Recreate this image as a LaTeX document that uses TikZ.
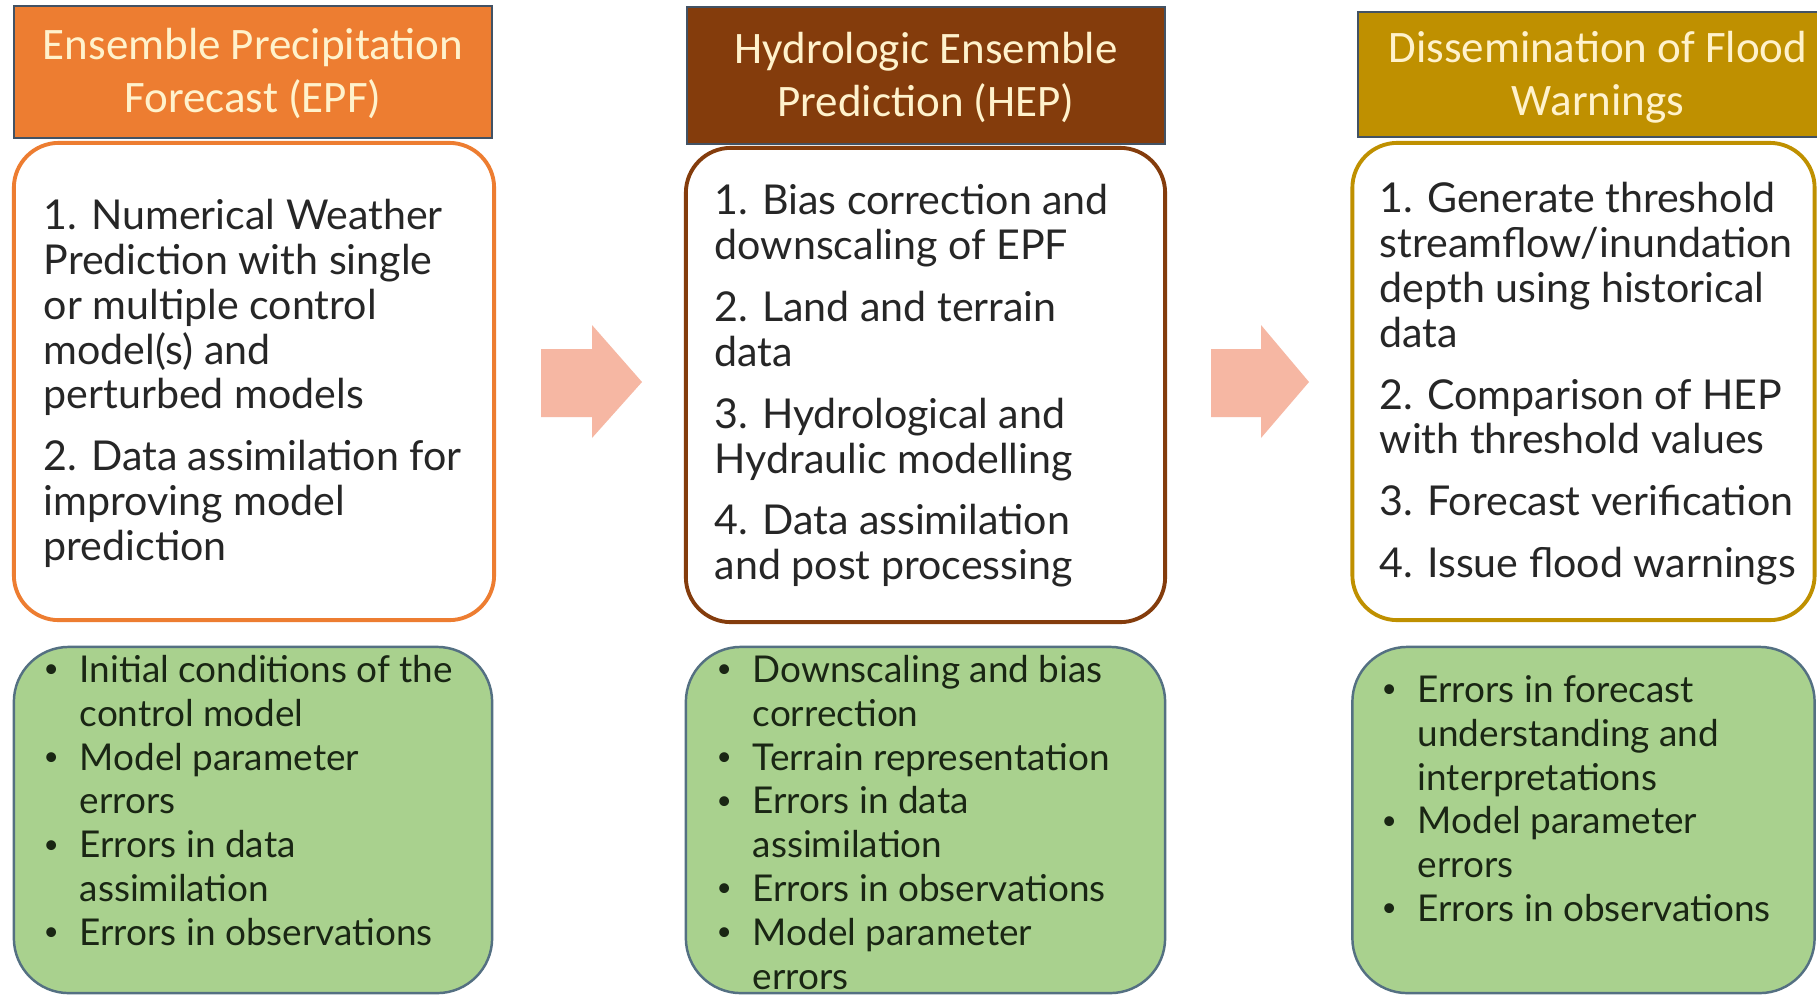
\documentclass[tikz,border=0pt]{standalone}
\usepackage{fontspec}
\setmainfont{Lato}
\newfontfamily\titlefont{Carlito}
\definecolor{epforange}{RGB}{237,125,49}
\definecolor{hepbrown}{RGB}{132,60,12}
\definecolor{floodgold}{RGB}{191,144,0}
\definecolor{titletext}{RGB}{255,242,204}
\definecolor{titleedge}{RGB}{66,82,100}
\definecolor{errgreen}{RGB}{169,209,142}
\definecolor{erredge}{RGB}{84,112,130}
\definecolor{errink}{RGB}{26,38,20}
\definecolor{arrowpink}{RGB}{246,183,163}
\def\bul{\makebox[10.24pt][l]{\fontsize{7.5}{8}\selectfont\raisebox{1.3pt}{\textbullet}}}
\def\firstline{\rule{0pt}{10pt}}
\def\titlelines#1#2{\rule{0pt}{11.2pt}#1\\#2\rule[-3.2pt]{0pt}{3.2pt}}

\tikzset{
	titlebox/.style={draw=titleedge, line width=0.6pt, inner sep=0pt, align=center, text=titletext, font=\titlefont\fontsize{12.8}{15.1}\selectfont},
	stepsbox/.style={fill=white, line width=1.1pt, rounded corners=0.45cm},
	stepstext/.style={anchor=north west, inner sep=0pt, align=left, text=black!85, font=\fontsize{11.7}{12.72}\selectfont},
	errbox/.style={draw=erredge, fill=errgreen, line width=0.7pt, rounded corners=0.55cm},
	errtext/.style={anchor=north west, inner sep=0pt, text=errink, font=\fontsize{10.5}{12.46}\selectfont}
}

\begin{document}
\begin{tikzpicture}[x=0.01cm, y=-0.01cm]
			%%%%% START %%%%%
			\useasboundingbox[fill=white] (0, 0) rectangle (1817, 996);
			
			% column titles
			\node[titlebox, fill=epforange, minimum width=4.78cm, minimum height=1.32cm] (epftitle) at (253, 72) {\titlelines{Ensemble Precipitation}{Forecast (EPF)}};
			\node[titlebox, fill=hepbrown, minimum width=4.78cm, minimum height=1.37cm] (heptitle) at (926, 75.5) {\titlelines{Hydrologic Ensemble}{Prediction (HEP)}};
			\node[titlebox, fill=floodgold, minimum width=4.80cm, minimum height=1.25cm] (floodtitle) at (1598, 74.5) {\titlelines{Dissemination of Flood}{Warnings}};
			
			% process steps
			\node[stepsbox, draw=epforange, minimum width=4.80cm, minimum height=4.77cm] (epfsteps) at (254, 381.5) {};
			\node[stepsbox, draw=hepbrown, minimum width=4.79cm, minimum height=4.74cm] (hepsteps) at (925.5, 385) {};
			\node[stepsbox, draw=floodgold, minimum width=4.62cm, minimum height=4.77cm] (floodsteps) at (1583.5, 381.5) {};
			
			\node[stepstext] (epfstepstext) at (43, 194) {\firstline 1. Numerical Weather\\Prediction with single\\or multiple control\\model(s) and\\perturbed models\\[4.9pt]2. Data assimilation for\\improving model\\prediction};
			\node[stepstext] (hepstepstext) at (714, 179) {\firstline 1. Bias correction and\\downscaling of EPF\\[4.9pt]2. Land and terrain\\data\\[4.9pt]3. Hydrological and\\Hydraulic modelling\\[4.9pt]4. Data assimilation\\and post processing};
			\node[stepstext] (floodstepstext) at (1379, 177) {\firstline 1. Generate threshold\\streamflow/inundation\\depth using historical\\data\\[4.9pt]2. Comparison of HEP\\with threshold values\\[4.9pt]3. Forecast verification\\[4.9pt]4. Issue flood warnings};
			
			% sources of error
			\node[errbox, minimum width=4.78cm, minimum height=3.46cm] (epferrors) at (253, 820) {};
			\node[errbox, minimum width=4.79cm, minimum height=3.46cm] (heperrors) at (925.5, 820) {};
			\node[errbox, minimum width=4.62cm, minimum height=3.46cm] (flooderrors) at (1583.5, 820) {};
			
			\node[errtext] (epferrortext) at (43, 651) {\begin{tabular}{@{}l@{}l@{}}
				\bul & Initial conditions of the\\ & control model\\
				\bul & Model parameter\\ & errors\\
				\bul & Errors in data\\ & assimilation\\
				\bul & Errors in observations
			\end{tabular}};
			\node[errtext] (heperrortext) at (716, 651) {\begin{tabular}{@{}l@{}l@{}}
				\bul & Downscaling and bias\\ & correction\\
				\bul & Terrain representation\\
				\bul & Errors in data\\ & assimilation\\
				\bul & Errors in observations\\
				\bul & Model parameter\\ & errors
			\end{tabular}};
			\node[errtext] (flooderrortext) at (1381, 671) {\begin{tabular}{@{}l@{}l@{}}
				\bul & Errors in forecast\\ & understanding and\\ & interpretations\\
				\bul & Model parameter\\ & errors\\
				\bul & Errors in observations
			\end{tabular}};
			
			% block arrows between stages
			\fill[arrowpink] (541, 349) -- (592, 349) -- (592, 325) -- (642, 382) -- (592, 438) -- (592, 417) -- (541, 417) -- cycle;
			\fill[arrowpink] (1211, 349) -- (1261, 349) -- (1261, 325) -- (1309, 382) -- (1261, 438) -- (1261, 417) -- (1211, 417) -- cycle;
			
			%%%%% END %%%%%
\end{tikzpicture}
\end{document}
